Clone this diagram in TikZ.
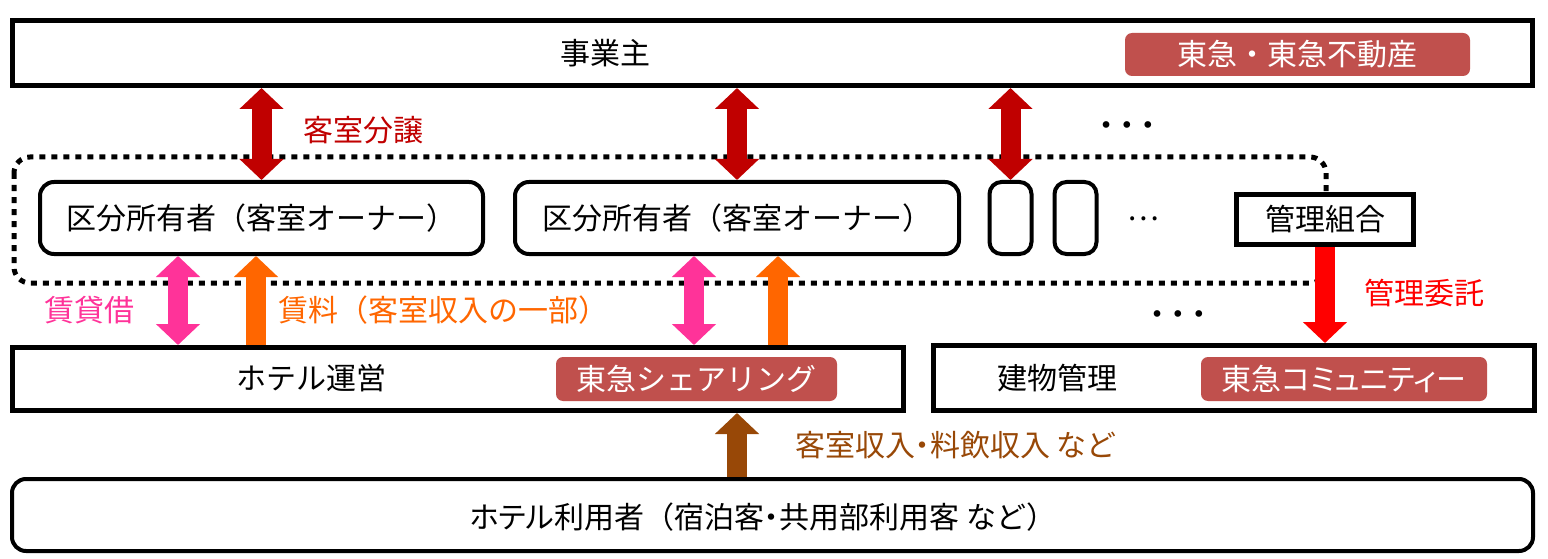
\documentclass[tikz,border=0pt]{standalone}
\usepackage{fontspec}
\setmainfont{Noto Sans CJK JP}
\newfontfamily\propfont{Noto Sans CJK JP}[RawFeature=+palt]
\newfontfamily\dotfont{DejaVu Sans}
\usetikzlibrary{arrows.meta}

\definecolor{tagred}{HTML}{C0504D}
\definecolor{darkred}{HTML}{C00000}
\definecolor{hotpink}{HTML}{FF3399}
\definecolor{orangeA}{HTML}{FF6600}
\definecolor{brownA}{HTML}{984807}
\definecolor{pureRed}{HTML}{FF0000}

\tikzset{
    every node/.style={font=\fontsize{30}{36}\selectfont, inner sep=0pt},
    plainbox/.style={draw, line width=5pt, fill=white},
    roundbox/.style={draw, line width=4pt, rounded corners=14pt, fill=white},
    tag/.style={fill=tagred, text=white, rounded corners=7pt},
    fat/.style={line width=20pt, -{Triangle[width=43pt,length=21pt]}},
    fatboth/.style={line width=20pt, {Triangle[width=43pt,length=21pt]}-{Triangle[width=43pt,length=21pt]}},
    dotframe/.style={line width=5pt, dash pattern=on 6pt off 6pt, rounded corners=16pt},
    bigdots/.style={font=\dotfont\fontsize{23}{28}\selectfont},
}

\begin{document}
\begin{tikzpicture}[x=1pt, y=-1pt]
    \useasboundingbox (0,0) rectangle (1548,559);

    % top row
    \node[plainbox, minimum width=1520pt, minimum height=65pt] (top) at (772.5, 53) {};
    \node (topname) at (605, 53) {事業主};
    \node[tag, minimum width=345pt, minimum height=43pt] (tokyu) at (1297.5, 54.5) {東急・東急不動産};

    % owners
    \draw[dotframe] (14, 157) rectangle (1326, 283);
    \node[roundbox, minimum width=443pt, minimum height=72pt] (o1) at (261.5, 218) {区分所有者（客室オーナー）};
    \node[roundbox, minimum width=444pt, minimum height=72pt] (o2) at (737, 218) {区分所有者（客室オーナー）};
    \node[roundbox, rounded corners=12pt, minimum width=42pt, minimum height=72pt] (sA) at (1010.5, 218) {};
    \node[roundbox, rounded corners=12pt, minimum width=42pt, minimum height=72pt] (sB) at (1075.5, 218) {};
    \node (odots) at (1143, 219) {…};
    \node[plainbox, minimum width=177pt, minimum height=50pt] (kanri) at (1325, 219.5) {管理組合};

    % operators
    \node[plainbox, minimum width=891pt, minimum height=63pt] (hotel) at (458, 379) {};
    \node (hotelname) at (311, 378) {ホテル運営};
    \node[tag, minimum width=281pt, minimum height=44pt] (sharing) at (696.5, 379) {東急シェアリング};
    \node[plainbox, minimum width=601pt, minimum height=65pt] (bldg) at (1234, 378) {};
    \node (bldgname) at (1057, 378) {建物管理};
    \node[tag, minimum width=286pt, minimum height=44pt] (community) at (1344, 379) {\propfont 東急コミュニティー};

    % guests
    \node[roundbox, minimum width=1521pt, minimum height=72pt] (guest) at (772.5, 515) {};
    \node (guestname) at (763, 517) {{\propfont ホテル}利用者（宿泊客{\propfont ・}共用部利用客 など）};

    % arrows
    \draw[fatboth, darkred] (o1.north |- top.south) -- (o1.north);
    \draw[fatboth, darkred] (o2.north |- top.south) -- (o2.north);
    \draw[fatboth, darkred] (sA.north |- top.south) -- (sA.north);
    \draw[fatboth, hotpink] ([xshift=-83.5pt]o1.south) -- ([xshift=-83.5pt]o1.south |- hotel.north);
    \draw[fat, orangeA] ([xshift=-5.5pt]o1.south |- hotel.north) -- ([xshift=-5.5pt]o1.south);
    \draw[fatboth, hotpink] ([xshift=-43pt]o2.south) -- ([xshift=-43pt]o2.south |- hotel.north);
    \draw[fat, orangeA] ([xshift=41pt]o2.south |- hotel.north) -- ([xshift=41pt]o2.south);
    \draw[fat, pureRed] (kanri.south) -- (kanri.south |- bldg.north);
    \draw[fat, brownA] (o2.south |- guest.north) -- (o2.south |- hotel.south);

    % labels
    \node[anchor=west, text=darkred] (sale) at (303, 130) {客室分譲};
    \node[bigdots] (tdots) at (1127, 128) {• • •};
    \node[text=hotpink] (lease) at (89, 310) {賃貸借};
    \node[anchor=west, text=orangeA] (rent) at (278, 310) {賃料（客室収入の一部）};
    \node[anchor=west, text=pureRed] (trust) at (1364, 293) {管理委託};
    \node[bigdots] (bdots) at (1178, 317) {• • •};
    \node[anchor=west, text=brownA] (income) at (795, 445) {\propfont 客室収入・料飲収入 など};
\end{tikzpicture}
\end{document}
